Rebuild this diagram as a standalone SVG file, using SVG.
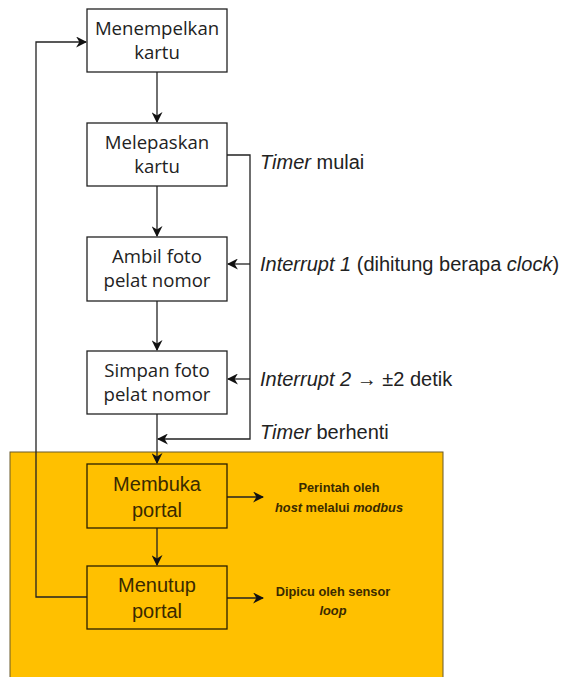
<svg xmlns="http://www.w3.org/2000/svg" width="563" height="677" viewBox="0 0 563 677">
<defs>
<marker id="ah" viewBox="0 0 10 10" refX="9" refY="5" markerWidth="11" markerHeight="11" markerUnits="userSpaceOnUse" orient="auto">
<path d="M0,0 L10,5 L0,10 L3,5 z" fill="#111"/>
</marker>
<style>
.box{fill:#fff;stroke:#222;stroke-width:1.3}
.obox{fill:#FFC000;stroke:#2a2000;stroke-width:1.3}
.t{font-family:"Open Sans","Noto Sans",sans-serif;font-size:18.6px;fill:#222;text-anchor:middle}
.ot{font-family:"Liberation Sans",Arial,sans-serif;font-size:20px;fill:#3a2a00;text-anchor:middle}
.lbl{font-family:"Liberation Sans",Arial,sans-serif;font-size:20px;fill:#222}
.sm{font-family:"Liberation Sans",Arial,sans-serif;font-size:12.8px;font-weight:bold;fill:#3a2a00;text-anchor:middle}
.c{fill:none;stroke:#222;stroke-width:1.3}
</style>
</defs>
<rect x="0" y="0" width="563" height="677" fill="#fff"/>
<rect id="zone" x="10" y="452" width="433" height="230" fill="#FFC000" stroke="#6b5a2a" stroke-width="1"/>
<g id="connectors">
<path class="c" d="M157,72 V122" marker-end="url(#ah)"/>
<path class="c" d="M157,186 V236" marker-end="url(#ah)"/>
<path class="c" d="M157,301 V350" marker-end="url(#ah)"/>
<path class="c" d="M157,414 V463" marker-end="url(#ah)"/>
<path class="c" d="M157,528 V565" marker-end="url(#ah)"/>
<path class="c" d="M227,155 H250 V439 H158" marker-end="url(#ah)"/>
<path class="c" d="M250,264 H228" marker-end="url(#ah)"/>
<path class="c" d="M250,379 H228" marker-end="url(#ah)"/>
<path class="c" d="M87,597 H36 V42 H86" marker-end="url(#ah)"/>
<path class="c" d="M227,497 H263" marker-end="url(#ah)"/>
<path class="c" d="M227,598 H263" marker-end="url(#ah)"/>
</g>
<g id="n1"><rect class="box" x="87" y="9" width="140" height="63"/><text class="t" x="157" y="35">Menempelkan</text><text class="t" x="157" y="59">kartu</text></g>
<g id="n2"><rect class="box" x="87" y="123" width="140" height="63"/><text class="t" x="157" y="149">Melepaskan</text><text class="t" x="157" y="173">kartu</text></g>
<g id="n3"><rect class="box" x="87" y="237" width="140" height="64"/><text class="t" x="157" y="263">Ambil foto</text><text class="t" x="157" y="287">pelat nomor</text></g>
<g id="n4"><rect class="box" x="87" y="351" width="140" height="63"/><text class="t" x="157" y="377">Simpan foto</text><text class="t" x="157" y="401">pelat nomor</text></g>
<g id="n5"><rect class="obox" x="87" y="464" width="140" height="64"/><text class="ot" x="157" y="491">Membuka</text><text class="ot" x="157" y="517">portal</text></g>
<g id="n6"><rect class="obox" x="87" y="566" width="140" height="63"/><text class="ot" x="157" y="592">Menutup</text><text class="ot" x="157" y="618">portal</text></g>
<g id="labels">
<text class="lbl" x="260" y="169"><tspan font-style="italic">Timer</tspan> mulai</text>
<text class="lbl" x="260" y="271"><tspan font-style="italic">Interrupt 1</tspan> (dihitung berapa <tspan font-style="italic">clock</tspan>)</text>
<text class="lbl" x="260" y="386"><tspan font-style="italic">Interrupt 2</tspan> → ±2 detik</text>
<text class="lbl" x="260" y="439"><tspan font-style="italic">Timer</tspan> berhenti</text>
<text class="sm" x="339" y="492">Perintah oleh</text>
<text class="sm" x="339" y="512"><tspan font-style="italic">host</tspan> melalui <tspan font-style="italic">modbus</tspan></text>
<text class="sm" x="333" y="596">Dipicu oleh sensor</text>
<text class="sm" x="333" y="615" font-style="italic">loop</text>
</g>
</svg>
